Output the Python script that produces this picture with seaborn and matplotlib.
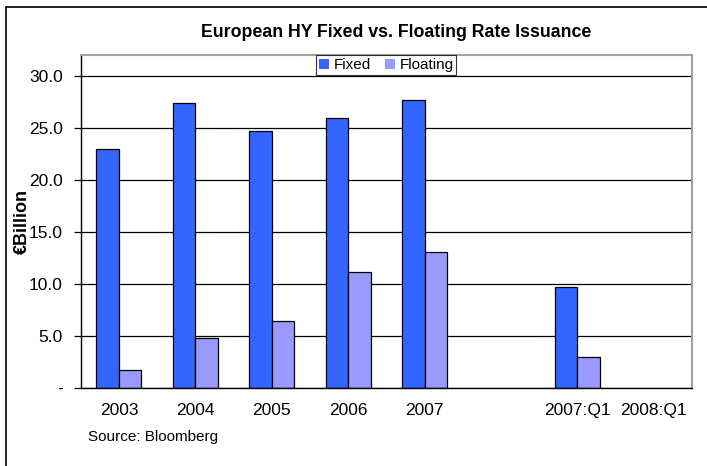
import matplotlib
matplotlib.use('Agg')
import matplotlib.pyplot as plt
from matplotlib.lines import Line2D
import seaborn as sns
import pandas as pd
import numpy as np

# ── Data ──────────────────────────────────────────────────────────────────────
categories = ['2003', '2004', '2005', '2006', '2007', '', '2007:Q1', '2008:Q1']
fixed      = [23.0, 27.35, 24.7, 25.9, 27.7, 0.0, 9.7, 0.0]
floating   = [1.75, 4.8, 6.4, 11.1, 13.1, 0.0, 3.0, 0.0]
series     = ['Fixed', 'Floating']
colors     = ['#3366FF', '#9999FF']

df = pd.DataFrame({
    'cat':   categories * 2,
    'value': fixed + floating,
    'type':  ['Fixed'] * len(categories) + ['Floating'] * len(categories),
})
df['cat'] = pd.Categorical(df['cat'], categories=categories, ordered=True)

sns.set_style('white')
plt.rcParams['font.family'] = ['Liberation Sans', 'DejaVu Sans']
plt.rcParams.update({'text.color': 'black', 'axes.labelcolor': 'black',
                     'xtick.color': 'black', 'ytick.color': 'black'})

fig = plt.figure(figsize=(7.07, 4.66), dpi=100)
ax = fig.add_axes([0.1141, 0.1674, 0.8647, 0.7146])

sns.barplot(data=df, x='cat', y='value', hue='type', hue_order=series,
            palette=colors, saturation=1, width=0.59, gap=0, edgecolor='black',
            linewidth=0.9, ax=ax, legend=True)

# zero-height bars leave no mark in the original
for p in ax.patches:
    if p.get_height() == 0:
        p.set_linewidth(0)

# ── Axes styling ──────────────────────────────────────────────────────────────
ax.set_ylim(0, 32)
ax.set_xlim(-0.5, len(categories) - 0.5)
yt = np.arange(0, 31, 5)
ax.set_yticks(yt)
ax.set_yticklabels(['-'] + [f'{v:.1f}' for v in yt[1:]], fontsize=12.5)
ax.set_axisbelow(True)
ax.yaxis.grid(True, color='black', lw=0.9)
ax.xaxis.grid(False)

ax.set_xticks(range(len(categories)))
ax.set_xticklabels(categories, fontsize=12.5)
ax.set_xticks(np.arange(-0.5, len(categories), 1), minor=True)
ax.tick_params(axis='x', which='major', length=0, pad=11)
ax.tick_params(axis='x', which='minor', length=5, width=0.9, color='black', direction='out')
ax.tick_params(axis='y', length=5, width=0.9, color='black', direction='out', left=True, pad=8)

for side in ['left', 'bottom']:
    ax.spines[side].set_color('black')
    ax.spines[side].set_linewidth(1.0)
for side in ['top', 'right']:
    ax.spines[side].set_visible(True)
    ax.spines[side].set_color('#A0A0A0')
    ax.spines[side].set_linewidth(1.5)

ax.set_xlabel('')
ax.set_ylabel('€Billion', fontsize=13, fontweight='bold')
ax.yaxis.set_label_coords(-0.082, 0.5)

leg = ax.legend(loc='upper center', bbox_to_anchor=(0.5, 1.0), ncol=2,
                fontsize=11, frameon=True, fancybox=False, edgecolor='black',
                handlelength=0.65, handleheight=0.65, handletextpad=0.3,
                columnspacing=0.9, borderpad=0.2, borderaxespad=0)
leg.get_frame().set_linewidth(0.8)

fig.text(0.561, 0.93, 'European HY Fixed vs. Floating Rate Issuance',
         ha='center', va='center', fontsize=12.8, fontweight='bold')
fig.text(0.124, 0.062, 'Source: Bloomberg', ha='left', va='center', fontsize=11)

# outer chart frame (left and top visible)
fig.add_artist(Line2D([0.008, 0.008], [0.0, 0.985], transform=fig.transFigure,
                      color='black', lw=1.2))
fig.add_artist(Line2D([0.008, 1.0], [0.985, 0.985], transform=fig.transFigure,
                      color='black', lw=1.2))

plt.savefig('out.png', dpi=100)
plt.close()
